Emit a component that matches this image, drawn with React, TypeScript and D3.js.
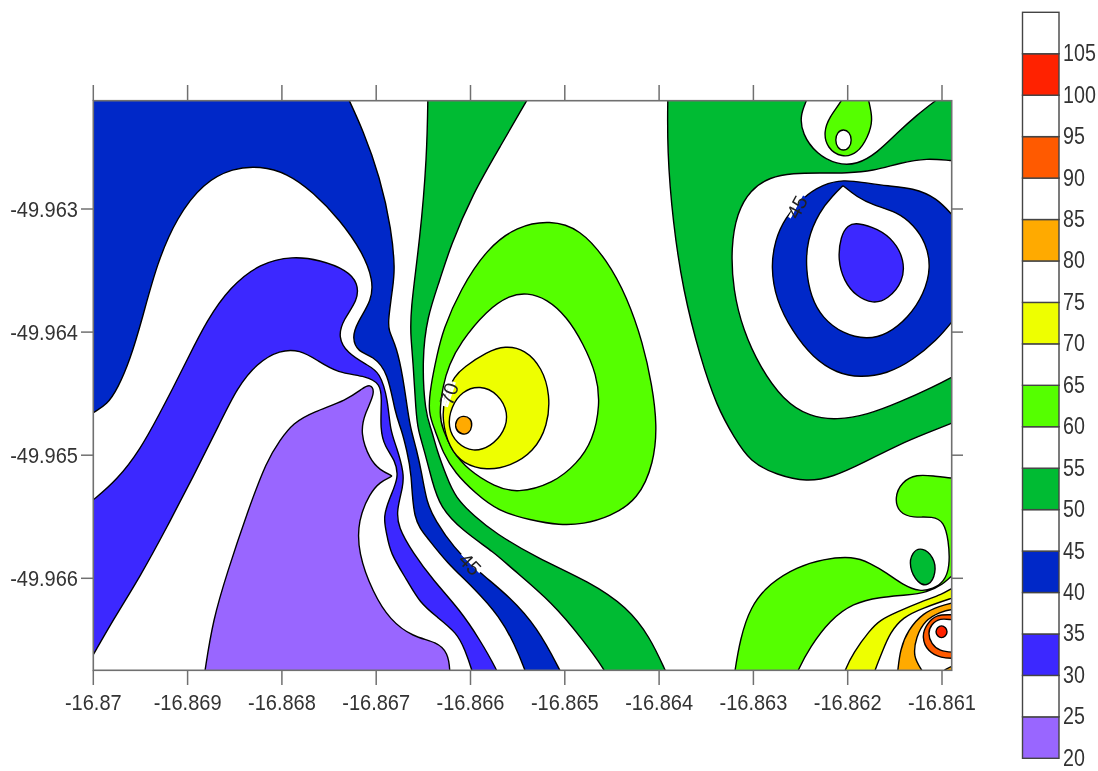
import * as d3 from "d3";

type Pt = number[];

// contour vertices, as [east, south] in thousandths of a degree
// from the point (-16.87, -49.963)
const originLon = -16.87;
const originLat = -49.963;

const xTicks = [-16.87, -16.869, -16.868, -16.867, -16.866, -16.865, -16.864, -16.863, -16.862, -16.861];
const yTicks = [-49.963, -49.964, -49.965, -49.966];
const levels = [20, 25, 30, 35, 40, 45, 50, 55, 60, 65, 70, 75, 80, 85, 90, 95, 100, 105, 110];
const legendLabels = levels.slice(0, -1);

const white = "#ffffff";
const purple = "#9966ff";
const blue = "#3c28ff";
const navy = "#0028c8";
const green = "#00bb33";
const lime = "#55ff00";
const yellow = "#eeff00";
const amber = "#ffaa00";
const orange = "#ff5a00";
const red = "#ff2200";
const bandColors = [purple, white, blue, white, navy, white, green, white, lime, white, yellow, white, amber, white, orange, white, red, white];

const west45: Pt[] = [[2.687,-0.926],[2.86,-0.642],[3.04,-0.26],[3.164,0.171],[3.199,0.496],[3.178,0.617],[3.128,0.902],[3.128,0.983],[3.217,1.121],[3.284,1.365],[3.337,1.657],[3.369,1.795],[3.429,1.958],[3.483,2.145],[3.536,2.388],[3.624,2.526],[3.814,2.746],[4.101,2.957],[4.419,3.152],[4.705,3.396],[4.949,3.745],[5.023,3.867]];
const west40: Pt[] = [[-0.088,1.714],[0,1.649],[0.145,1.592],[0.262,1.454],[0.389,1.227],[0.516,0.902],[0.675,0.439],[0.888,0.065],[1.163,-0.211],[1.481,-0.333],[1.768,-0.349],[2.054,-0.292],[2.33,-0.138],[2.616,0.089],[2.86,0.357],[2.966,0.577],[2.955,0.739],[2.796,0.926],[2.743,1.048],[2.807,1.162],[2.966,1.194],[3.125,1.324],[3.199,1.657],[3.27,1.795],[3.323,1.958],[3.376,2.145],[3.39,2.526],[3.536,2.664],[3.751,2.876],[4.027,3.071],[4.313,3.314],[4.472,3.542],[4.578,3.745],[4.631,3.867]];
const west35: Pt[] = [[-0.088,2.413],[0,2.364],[0.251,2.201],[0.495,1.958],[0.707,1.657],[0.845,1.454],[0.994,1.227],[1.206,0.902],[1.45,0.634],[1.768,0.439],[2.118,0.382],[2.404,0.414],[2.69,0.496],[2.807,0.601],[2.807,0.739],[2.648,0.902],[2.595,1.04],[2.69,1.17],[2.902,1.267],[3.04,1.324],[3.125,1.552],[3.146,1.795],[3.217,1.933],[3.295,2.145],[3.284,2.258],[3.217,2.445],[3.231,2.583],[3.39,2.794],[3.602,3.014],[3.889,3.258],[4.101,3.501],[4.281,3.745],[4.345,3.867]];
const west30: Pt[] = [[-0.088,3.729],[0,3.623],[0.209,3.339],[0.495,2.989],[0.782,2.583],[1.057,2.177],[1.344,1.738],[1.524,1.454],[1.736,1.251],[1.98,1.145],[2.192,1.145],[2.372,1.227],[2.584,1.332],[2.902,1.357],[3.04,1.422],[3.061,1.527],[3.04,1.795],[3.093,1.933],[3.199,2.039],[3.242,2.177],[3.146,2.34],[3.072,2.502],[3.111,2.632],[3.146,2.794],[3.327,3.014],[3.464,3.201],[3.645,3.314],[3.857,3.444],[3.942,3.582],[4.016,3.745],[4.058,3.867]];
const west25: Pt[] = [[1.163,3.867],[1.185,3.745],[1.269,3.339],[1.418,2.957],[1.63,2.47],[1.842,2.039],[1.98,1.877],[2.118,1.738],[2.33,1.649],[2.69,1.552],[2.86,1.454],[2.934,1.42],[2.995,1.487],[2.881,1.657],[2.828,1.82],[2.934,2.039],[3.04,2.12],[3.17,2.169],[3.17,2.169],[3.04,2.218],[2.934,2.307],[2.807,2.526],[2.807,2.794],[2.966,3.119],[3.146,3.339],[3.39,3.477],[3.645,3.517],[3.761,3.607],[3.783,3.745],[3.783,3.867]];

const strip55West: Pt[] = [[3.549,-0.967],[3.539,-0.422],[3.464,0.252],[3.358,0.845],[3.369,1.064],[3.39,1.227],[3.422,1.657],[3.443,1.795],[3.518,1.982],[3.589,2.201],[3.676,2.421],[3.907,2.608],[4.26,2.794],[4.419,2.908],[4.875,3.201],[5.193,3.501],[5.426,3.745],[5.501,3.867]];
const strip50East: Pt[] = [[6.137,3.867],[6.063,3.745],[5.903,3.477],[5.66,3.233],[5.267,3.03],[4.705,2.835],[4.26,2.632],[4.048,2.502],[3.836,2.34],[3.748,2.177],[3.642,1.958],[3.589,1.795],[3.518,1.657],[3.486,1.227],[3.539,0.877],[3.676,0.577],[3.783,0.309],[4.027,-0.13],[4.313,-0.504],[4.599,-0.885],[4.663,-0.967]];

const centre60: Pt[] = [[4.843,0.09],[5.161,0.16],[5.447,0.414],[5.66,0.715],[5.829,1.089],[5.925,1.43],[5.98,1.755],[5.945,2.063],[5.78,2.36],[5.479,2.5],[5.193,2.56],[4.949,2.57],[4.631,2.526],[4.302,2.459],[4.048,2.307],[3.836,2.145],[3.708,1.982],[3.624,1.795],[3.55,1.657],[3.575,1.446],[3.645,1.186],[3.708,0.983],[3.889,0.658],[4.175,0.32],[4.493,0.14]];
const centre65: Pt[] = [[4.599,0.68],[4.811,0.73],[5.023,0.877],[5.193,1.089],[5.341,1.348],[5.375,1.592],[5.3,1.877],[5.129,2.07],[4.875,2.23],[4.493,2.31],[4.26,2.256],[3.973,2.12],[3.801,1.958],[3.708,1.795],[3.666,1.673],[3.708,1.43],[3.772,1.267],[3.889,1.089],[4.175,0.82],[4.419,0.7]];
const centre70: Pt[] = [[4.366,1.11],[4.578,1.14],[4.76,1.29],[4.845,1.511],[4.82,1.76],[4.67,1.975],[4.419,2.09],[4.175,2.125],[3.92,2.07],[3.775,1.94],[3.695,1.714],[3.725,1.51],[3.836,1.355],[3.92,1.29],[4.175,1.16]];
const centre75: Pt[] = [[4.101,1.43],[4.295,1.5],[4.405,1.657],[4.36,1.81],[4.215,1.93],[4.027,1.975],[3.855,1.91],[3.755,1.771],[3.795,1.605],[3.91,1.48]];
const centre80: Pt[] = [[3.92,1.675],[4.005,1.7],[4.02,1.763],[3.985,1.825],[3.91,1.835],[3.835,1.79],[3.845,1.71]];

const east55: Pt[] = [[6.094,-0.967],[6.084,-0.479],[6.147,0.114],[6.253,0.658],[6.434,1.202],[6.614,1.608],[6.794,1.852],[6.964,2.055],[7.25,2.161],[7.568,2.218],[7.844,2.177],[8.162,2.063],[8.555,1.909],[8.841,1.82],[9.106,1.738],[9.244,1.698]];
const east50: Pt[] = [[9.244,-0.39],[9.106,-0.39],[8.841,-0.414],[8.555,-0.374],[8.268,-0.309],[7.993,-0.292],[7.706,-0.292],[7.42,-0.292],[7.176,-0.26],[6.964,-0.154],[6.826,0.032],[6.762,0.309],[6.784,0.658],[6.89,0.983],[7.07,1.284],[7.314,1.552],[7.6,1.69],[7.886,1.714],[8.205,1.673],[8.555,1.568],[8.905,1.446],[9.106,1.365],[9.244,1.308]];
const east45: Pt[] = [[9.244,0.154],[9.106,0.049],[8.947,-0.089],[8.692,-0.171],[8.417,-0.187],[8.205,-0.211],[7.95,-0.24],[7.738,-0.2],[7.526,-0.097],[7.335,0.073],[7.229,0.252],[7.185,0.471],[7.24,0.739],[7.409,0.99],[7.632,1.21],[7.886,1.335],[8.13,1.37],[8.417,1.34],[8.692,1.227],[8.947,1.064],[9.106,0.918],[9.244,0.78]];
const east40: Pt[] = [[7.95,-0.19],[7.95,-0.19],[8.099,-0.097],[8.268,-0.032],[8.523,0.024],[8.7,0.13],[8.83,0.276],[8.885,0.471],[8.81,0.69],[8.64,0.885],[8.417,1.02],[8.205,1.06],[7.95,1.015],[7.73,0.885],[7.61,0.715],[7.556,0.496],[7.567,0.252],[7.7,0.02],[7.844,-0.11]];
const east35: Pt[] = [[8.099,0.11],[8.32,0.16],[8.495,0.26],[8.6,0.414],[8.59,0.59],[8.425,0.735],[8.268,0.77],[8.09,0.71],[7.96,0.585],[7.895,0.414],[7.925,0.22],[8.0,0.13]];

const north55: Pt[] = [[7.6,-0.967],[7.568,-0.885],[7.495,-0.764],[7.516,-0.61],[7.67,-0.445],[7.886,-0.36],[8.099,-0.36],[8.311,-0.455],[8.523,-0.617],[8.735,-0.764],[8.926,-0.877],[9.085,-0.967]];
const north60: Pt[] = [[7.982,-0.967],[7.939,-0.877],[7.805,-0.747],[7.745,-0.626],[7.78,-0.495],[7.939,-0.415],[8.105,-0.45],[8.215,-0.585],[8.27,-0.723],[8.224,-0.877],[8.194,-0.967]];
const north65: Pt[] = [[7.955,-0.65],[8.02,-0.625],[8.045,-0.561],[8.02,-0.497],[7.955,-0.47],[7.89,-0.497],[7.866,-0.561],[7.89,-0.625]];

const south60Upper: Pt[] = [[6.784,3.867],[6.805,3.745],[6.858,3.501],[6.964,3.233],[7.176,3.038],[7.462,2.908],[7.738,2.843],[8.056,2.82],[8.237,2.876],[8.417,2.957],[8.586,3.054],[8.767,3.11],[8.905,3.085],[9.02,3.03],[9.085,2.908],[9.07,2.689],[9.02,2.54],[8.905,2.495],[8.692,2.51],[8.545,2.47],[8.495,2.348],[8.57,2.215],[8.735,2.155],[8.905,2.169],[9.106,2.185],[9.244,2.201]];
const south60Lower: Pt[] = [[9.244,2.916],[9.106,2.973],[9.011,3.05],[8.841,3.115],[8.629,3.136],[8.342,3.152],[8.056,3.201],[7.812,3.339],[7.6,3.558],[7.473,3.745],[7.409,3.867]];
const south55: Pt[] = [[8.788,2.745],[8.915,2.825],[8.94,2.957],[8.86,3.07],[8.74,3.04],[8.648,2.908],[8.68,2.785]];
const south70Upper: Pt[] = [[7.918,3.867],[7.971,3.745],[8.056,3.607],[8.237,3.42],[8.342,3.339],[8.523,3.274],[8.767,3.193],[9.011,3.128],[9.106,3.079],[9.244,3.03]];
const south70Lower: Pt[] = [[9.244,3.128],[9.106,3.16],[8.799,3.241],[8.586,3.314],[8.448,3.444],[8.374,3.582],[8.289,3.745],[8.237,3.867]];
const south80Outer: Pt[] = [[8.512,3.867],[8.533,3.745],[8.555,3.582],[8.639,3.42],[8.799,3.282],[8.979,3.225],[9.106,3.201],[9.244,3.176]];
const south80Inner: Pt[] = [[9.244,3.249],[9.106,3.249],[8.979,3.274],[8.82,3.339],[8.724,3.477],[8.692,3.639],[8.788,3.745],[8.873,3.867]];
const south90: Pt[] = [[9.244,3.298],[9.106,3.298],[8.947,3.29],[8.83,3.375],[8.785,3.477],[8.845,3.595],[9,3.65],[9.106,3.65],[9.244,3.647]];
const south95: Pt[] = [[9.244,3.339],[9.106,3.339],[8.979,3.322],[8.885,3.375],[8.85,3.444],[8.885,3.535],[8.979,3.592],[9.106,3.602],[9.244,3.599]];
const south100: Pt[] = [[8.995,3.38],[9.04,3.4],[9.06,3.434],[9.04,3.47],[8.995,3.488],[8.95,3.47],[8.93,3.434],[8.95,3.4]];
const corner80: Pt[] = [[8.958,3.867],[9,3.745],[9.095,3.72],[9.244,3.664]];

const labelValues = ["45", "45", "70"];
const labelPoints: Pt[] = [[3.995, 2.884], [7.462, -0.016], [3.772, 1.503]];
const labelAngles = [46, -62, -72];
const labelSides = [[white, navy], [white, navy], [white, white]];

const x = d3.scaleLinear().domain([-16.87, -16.861]).range([93.3, 942]);
const y = d3.scaleLinear().domain([-49.963, -49.966]).range([209, 578.3]);
const legendY = d3.scaleLinear().domain([20, 110]).range([758.3, 12.3]);

const px = (p: Pt) => x(originLon + p[0] / 1000);
const py = (p: Pt) => y(originLat - p[1] / 1000);

// basis splines iron out the small reading errors in the hand-read vertices
const openLine = d3.line<Pt>().x(px).y(py).curve(d3.curveBasis);
const loopLine = d3.line<Pt>().x(px).y(py).curve(d3.curveBasisClosed);

// one or more open contours joined by straight runs that stay outside the plot
function region(parts: Pt[][], outside: Pt[] = []) {
  const d = parts.map((part, i) => (i === 0 ? openLine(part) : "L" + openLine(part)!.slice(1))).join("");
  return d + outside.map((p) => `L${px(p)},${py(p)}`).join("") + "Z";
}

const paintOrder: [string, string][] = [
  [navy, region([west45], [[5.02, 4.6], [-0.6, 4.6], [-0.6, -1.3], [2.687, -1.3]])],
  [white, region([west40], [[4.63, 4.6], [-0.6, 4.6], [-0.6, 1.714]])],
  [blue, region([west35], [[4.345, 4.6], [-0.6, 4.6], [-0.6, 2.413]])],
  [white, region([west30], [[4.058, 4.6], [-0.6, 4.6], [-0.6, 3.729]])],
  [purple, region([west25])],
  [green, region([strip55West, strip50East])],
  [lime, loopLine(centre60)!],
  [white, loopLine(centre65)!],
  [yellow, loopLine(centre70)!],
  [white, loopLine(centre75)!],
  [amber, loopLine(centre80)!],
  [green, region([east55], [[9.8, 1.698], [9.8, -1.3], [6.094, -1.3]])],
  [white, region([north55])],
  [lime, region([north60])],
  [white, loopLine(north65)!],
  [white, region([east50], [[9.8, 1.308], [9.8, -0.39]])],
  [navy, region([east45], [[9.8, 0.78], [9.8, 0.154]])],
  [white, loopLine(east40)!],
  [blue, loopLine(east35)!],
  [lime, region([south60Upper, south60Lower])],
  [green, loopLine(south55)!],
  [yellow, region([south70Upper, south70Lower])],
  [amber, region([south80Outer, south80Inner])],
  [orange, region([south90], [[9.8, 3.647], [9.8, 3.298]])],
  [white, region([south95], [[9.8, 3.599], [9.8, 3.339]])],
  [red, loopLine(south100)!],
  [amber, region([corner80], [[9.8, 3.664], [9.8, 4.6], [8.958, 4.6]])],
];

const plotLeft = x(-16.87);
const plotRight = 951.7;
const plotTop = 100.7;
const plotBottom = 670.3;
const font = "'Liberation Sans', Arial, sans-serif";
const textColor = "#333";
const frameColor = "#707070";

export default function App() {
  return (
    <svg
      width={1098}
      height={771}
      style={{ position: "absolute", left: 0, top: 0, display: "block", background: "#fff", filter: "blur(0.4px)" }}
      fontFamily={font}
    >
      <defs>
        <clipPath id="plot">
          <rect x={plotLeft} y={plotTop} width={plotRight - plotLeft} height={plotBottom - plotTop} />
        </clipPath>
      </defs>

      <g clipPath="url(#plot)" strokeLinejoin="round">
        {paintOrder.map(([fill, d], i) => (
          <path key={i} d={d} fill={fill} stroke="#000" strokeWidth={1.4} />
        ))}
        {labelValues.map((v, i) => (
          <g key={i} transform={`translate(${px(labelPoints[i])},${py(labelPoints[i])}) rotate(${labelAngles[i]})`}>
            <rect x={-13} y={-3} width={26} height={3} fill={labelSides[i][0]} />
            <rect x={-13} y={0} width={26} height={3} fill={labelSides[i][1]} />
            <text textAnchor="middle" dy="0.35em" fontSize={20} fill="#222">
              {v}
            </text>
          </g>
        ))}
      </g>

      <rect
        x={plotLeft}
        y={plotTop}
        width={plotRight - plotLeft}
        height={plotBottom - plotTop}
        fill="none"
        stroke={frameColor}
        strokeWidth={1.6}
      />

      {xTicks.map((t) => (
        <g key={t} stroke={frameColor} strokeWidth={1.5}>
          <line x1={x(t)} x2={x(t)} y1={plotTop} y2={85} />
          <line x1={x(t)} x2={x(t)} y1={plotBottom} y2={685} />
        </g>
      ))}
      {yTicks.map((t) => (
        <g key={t} stroke={frameColor} strokeWidth={1.5}>
          <line x1={plotLeft} x2={81} y1={y(t)} y2={y(t)} />
          <line x1={plotRight} x2={963} y1={y(t)} y2={y(t)} />
        </g>
      ))}
      {xTicks.map((t) => (
        <text key={t} transform={`translate(${x(t)},710) scale(0.91,1)`} textAnchor="middle" fontSize={22} fill={textColor}>
          {t}
        </text>
      ))}
      {yTicks.map((t) => (
        <text key={t} transform={`translate(78,${y(t) + 8}) scale(0.91,1)`} textAnchor="end" fontSize={22} fill={textColor}>
          {t}
        </text>
      ))}

      {bandColors.map((c, i) => (
        <rect
          key={i}
          x={1022.5}
          y={legendY(levels[i + 1])}
          width={36.5}
          height={legendY(levels[i]) - legendY(levels[i + 1])}
          fill={c}
          stroke="#444"
          strokeWidth={1.4}
        />
      ))}
      {legendLabels.map((v) => (
        <text
          key={v}
          transform={`translate(1063,${legendY(v) + 7.5}) scale(0.82,1)`}
          fontSize={24}
          fill={textColor}
        >
          {v}
        </text>
      ))}
    </svg>
  );
}
